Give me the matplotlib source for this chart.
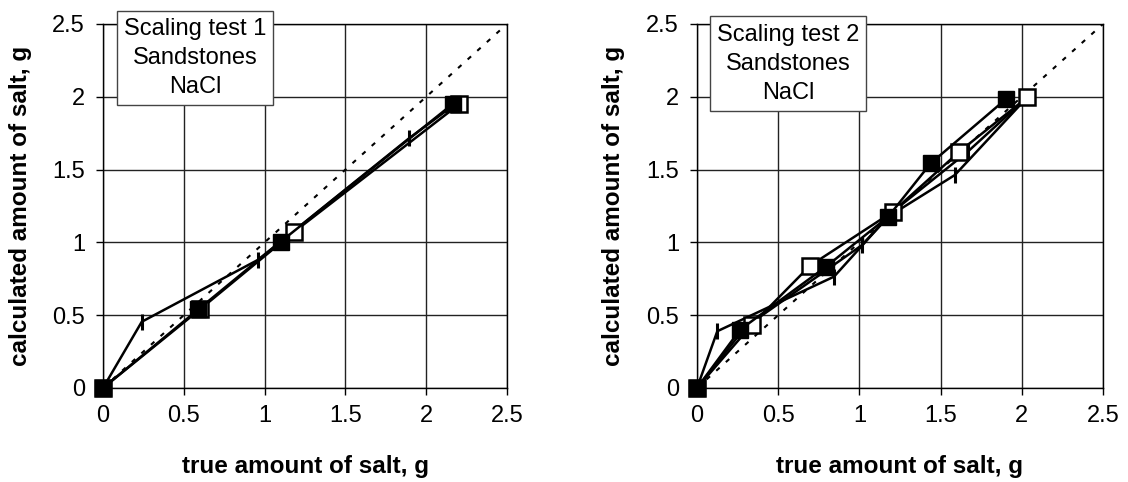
import matplotlib
matplotlib.use("Agg")
import matplotlib.pyplot as plt

plt.rcParams['font.family'] = ['Liberation Sans', 'DejaVu Sans']

# test 1 (left)
t1_filled_x = [0, 0.59, 1.10, 2.163]
t1_filled_y = [0, 0.54, 1.005, 1.95]
t1_open_x = [0, 0.60, 1.18, 2.205]
t1_open_y = [0, 0.54, 1.07, 1.95]
t1_tick_x = [0, 0.24, 0.957, 1.894, 2.18]
t1_tick_y = [0, 0.455, 0.879, 1.715, 1.95]

# test 2 (right)
t2_filled_x = [0, 0.265, 0.794, 1.178, 1.439, 1.903]
t2_filled_y = [0, 0.40, 0.833, 1.177, 1.543, 1.985]
t2_open_x = [0, 0.337, 0.696, 1.205, 1.615, 2.034]
t2_open_y = [0, 0.433, 0.84, 1.21, 1.623, 1.997]
t2_tickA_x = [0, 0.125, 0.844, 1.178, 1.588, 2.034]
t2_tickA_y = [0, 0.39, 0.765, 1.177, 1.463, 1.997]
t2_tickB_x = [0, 0.30, 1.014, 1.205, 1.667, 2.034]
t2_tickB_y = [0, 0.42, 0.98, 1.21, 1.623, 1.997]

ticks = [0, 0.5, 1, 1.5, 2, 2.5]
tick_labels = ["0", "0.5", "1", "1.5", "2", "2.5"]
titles = ["Scaling test 1\nSandstones\nNaCl", "Scaling test 2\nSandstones\nNaCl"]

fig = plt.figure(figsize=(11.28, 4.82), dpi=100)
W, H = 1128, 482
ax1 = fig.add_axes([103 / W, 1 - 388 / H, 404 / W, 364 / H])
ax2 = fig.add_axes([697 / W, 1 - 388 / H, 406 / W, 364 / H])


def style(ax, title, box_x, box_y):
    ax.set_xlim(0, 2.5)
    ax.set_ylim(0, 2.5)
    ax.set_xticks(ticks)
    ax.set_yticks(ticks)
    ax.set_xticklabels(tick_labels)
    ax.set_yticklabels(tick_labels)
    ax.tick_params(labelsize=17, length=5, width=1, color="black")
    ax.tick_params(axis="x", pad=7)
    ax.tick_params(axis="y", pad=8)
    ax.grid(True, color="#222222", linewidth=1)
    ax.set_axisbelow(True)
    for s in ax.spines.values():
        s.set_color("black")
        s.set_linewidth(1)
    ax.plot([0, 2.5], [0, 2.5], color="black", linewidth=1.5,
            linestyle=(0, (2.2, 4)), zorder=2)
    ax.set_xlabel("true amount of salt, g", fontsize=17.5, fontweight="bold", va="center")
    ax.set_ylabel("calculated amount of salt, g", fontsize=17.5, fontweight="bold", va="center")
    ax.xaxis.set_label_coords(0.5, -0.217)
    ax.yaxis.set_label_coords(-0.205, 0.5)
    ax.text(box_x, box_y, title, transform=ax.transAxes, ha="center", va="center",
            fontsize=17, linespacing=1.42, zorder=10, clip_on=False,
            bbox=dict(boxstyle="square,pad=0.3", facecolor="white", edgecolor="#444444", linewidth=1))


def tick_series(ax, x, y):
    ax.plot(x, y, color="black", linewidth=1.8, marker="|", markersize=11,
            markeredgewidth=2.2, zorder=3, clip_on=False)


def square_series(ax, ox, oy, fx, fy):
    ax.plot(ox, oy, color="black", linewidth=1.8, marker="s", markersize=12,
            markerfacecolor="white", markeredgecolor="black", markeredgewidth=1.8,
            zorder=4, clip_on=False)
    ax.plot(fx, fy, color="black", linewidth=1.8, marker="s", markersize=12,
            markerfacecolor="black", markeredgecolor="black", zorder=5, clip_on=False)


style(ax1, titles[0], 0.228, 0.907)
tick_series(ax1, t1_tick_x, t1_tick_y)
square_series(ax1, t1_open_x, t1_open_y, t1_filled_x, t1_filled_y)

style(ax2, titles[1], 0.224, 0.891)
tick_series(ax2, t2_tickA_x, t2_tickA_y)
tick_series(ax2, t2_tickB_x, t2_tickB_y)
square_series(ax2, t2_open_x, t2_open_y, t2_filled_x, t2_filled_y)

fig.savefig("out.png", dpi=100)
